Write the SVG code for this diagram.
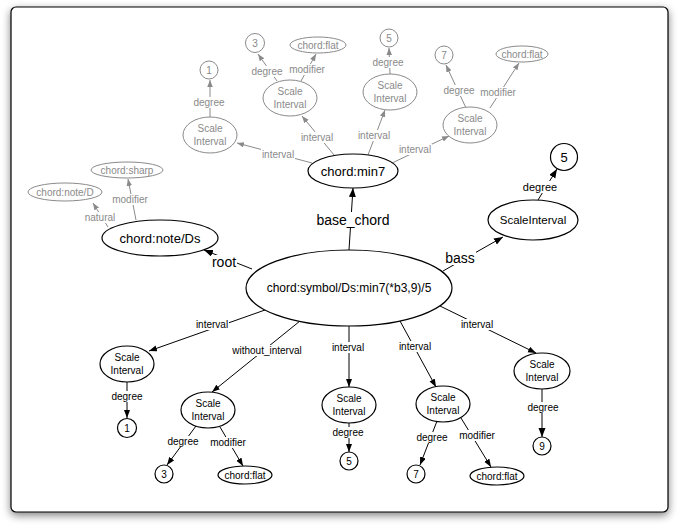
<svg xmlns="http://www.w3.org/2000/svg" width="680" height="527" viewBox="0 0 680 527">
<defs>
<filter id="sh" x="-10%" y="-10%" width="120%" height="120%">
<feGaussianBlur in="SourceAlpha" stdDeviation="4"/>
<feOffset dx="0" dy="3" result="b"/>
<feComponentTransfer><feFuncA type="linear" slope="0.5"/></feComponentTransfer>
<feMerge><feMergeNode/><feMergeNode in="SourceGraphic"/></feMerge>
</filter>
<marker id="ab" markerUnits="userSpaceOnUse" markerWidth="10" markerHeight="8" refX="9" refY="3.5" orient="auto"><path d="M0,0 L9,3.5 L0,7 z" fill="#000"/></marker>
<marker id="as" markerUnits="userSpaceOnUse" markerWidth="9" markerHeight="7" refX="8" refY="3" orient="auto"><path d="M0,0 L8,3 L0,6 z" fill="#000"/></marker>
<marker id="ag" markerUnits="userSpaceOnUse" markerWidth="9" markerHeight="7" refX="7" refY="2.75" orient="auto"><path d="M0,0 L7,2.75 L0,5.5 z" fill="#8a8a8a"/></marker>
</defs>
<style>
text{font-family:"Liberation Sans",Arial,sans-serif;text-anchor:middle}
.e{fill:#fff;stroke:#000;stroke-width:1.2}
.g{fill:#fff;stroke:#8a8a8a;stroke-width:1}
.tg{fill:#8a8a8a;font-size:10px}
.tb{fill:#000;font-size:10px}
.l{stroke:#000;stroke-width:1;fill:none}
.lg{stroke:#8a8a8a;stroke-width:1;fill:none}
.bg{fill:#fff}
</style>
<rect x="11" y="7" width="657" height="505" rx="5" fill="#fff" stroke="#000" stroke-width="1.2" filter="url(#sh)"/>

<g id="connectors">
<line class="l" x1="349" y1="250" x2="353" y2="188" marker-end="url(#ab)"/>
<line class="l" x1="252" y1="269" x2="204" y2="250" marker-end="url(#ab)"/>
<line class="l" x1="443" y1="271" x2="503" y2="237" marker-end="url(#ab)"/>
<line class="l" x1="538" y1="200" x2="557" y2="169" marker-end="url(#ab)"/>
<line class="l" x1="265" y1="310" x2="149" y2="351" marker-end="url(#as)"/>
<line class="l" x1="300" y1="321" x2="212" y2="392" marker-end="url(#as)"/>
<line class="l" x1="349" y1="326" x2="349" y2="387" marker-end="url(#as)"/>
<line class="l" x1="400" y1="321" x2="436" y2="387" marker-end="url(#as)"/>
<line class="l" x1="440" y1="306" x2="536" y2="353" marker-end="url(#as)"/>
<line class="l" x1="127" y1="382" x2="127" y2="418" marker-end="url(#as)"/>
<line class="l" x1="196" y1="426" x2="167" y2="465" marker-end="url(#as)"/>
<line class="l" x1="220" y1="427" x2="243" y2="466" marker-end="url(#as)"/>
<line class="l" x1="349" y1="423" x2="349" y2="452" marker-end="url(#as)"/>
<line class="l" x1="437" y1="421" x2="420" y2="465" marker-end="url(#as)"/>
<line class="l" x1="461" y1="418" x2="491" y2="467" marker-end="url(#as)"/>
<line class="l" x1="542" y1="389" x2="542" y2="437" marker-end="url(#ab)"/>
<line class="lg" x1="312" y1="163" x2="237" y2="143" marker-end="url(#ag)"/>
<line class="lg" x1="334" y1="155" x2="302" y2="116" marker-end="url(#ag)"/>
<line class="lg" x1="368" y1="155" x2="385" y2="110" marker-end="url(#ag)"/>
<line class="lg" x1="392" y1="163" x2="449" y2="136" marker-end="url(#ag)"/>
<line class="lg" x1="210" y1="117" x2="210" y2="80" marker-end="url(#ag)"/>
<line class="lg" x1="277" y1="81" x2="258" y2="54" marker-end="url(#ag)"/>
<line class="lg" x1="301" y1="81" x2="316" y2="54" marker-end="url(#ag)"/>
<line class="lg" x1="390" y1="74" x2="389" y2="48" marker-end="url(#ag)"/>
<line class="lg" x1="466" y1="108" x2="446" y2="65" marker-end="url(#ag)"/>
<line class="lg" x1="490" y1="108" x2="519" y2="63" marker-end="url(#ag)"/>
<line class="lg" x1="108" y1="227" x2="93" y2="203" marker-end="url(#ag)"/>
<line class="lg" x1="136" y1="220" x2="128" y2="179" marker-end="url(#ag)"/>

<rect class="bg" x="315" y="212" width="76" height="15"/>
<text x="353" y="225" font-size="14">base_chord</text>
<rect class="bg" x="211" y="255" width="26" height="14"/>
<text x="224" y="267" font-size="14">root</text>
<rect class="bg" x="444" y="251" width="32" height="14"/>
<text x="460" y="263" font-size="14">bass</text>
<rect class="bg" x="523" y="181" width="34" height="12"/>
<text x="540" y="191" font-size="11">degree</text>

<rect class="bg" x="195" y="319" width="34" height="11"/>
<text class="tb" x="212" y="328">interval</text>
<rect class="bg" x="231" y="345" width="72" height="11"/>
<text class="tb" x="267" y="354">without_interval</text>
<rect class="bg" x="331" y="342" width="34" height="11"/>
<text class="tb" x="348" y="351">interval</text>
<rect class="bg" x="398" y="341" width="34" height="11"/>
<text class="tb" x="415" y="350">interval</text>
<rect class="bg" x="460" y="319" width="34" height="11"/>
<text class="tb" x="477" y="328">interval</text>
<rect class="bg" x="111" y="391" width="33" height="11"/>
<text class="tb" x="127" y="400">degree</text>
<rect class="bg" x="167" y="436" width="33" height="11"/>
<text class="tb" x="183" y="445">degree</text>
<rect class="bg" x="209" y="437" width="38" height="11"/>
<text class="tb" x="228" y="446">modifier</text>
<rect class="bg" x="332" y="427" width="33" height="11"/>
<text class="tb" x="348" y="436">degree</text>
<rect class="bg" x="416" y="432" width="33" height="11"/>
<text class="tb" x="432" y="441">degree</text>
<rect class="bg" x="458" y="430" width="38" height="11"/>
<text class="tb" x="477" y="439">modifier</text>
<rect class="bg" x="526" y="402" width="33" height="11"/>
<text class="tb" x="543" y="411">degree</text>

<rect class="bg" x="261" y="149" width="34" height="11"/>
<text class="tg" x="278" y="158">interval</text>
<rect class="bg" x="300" y="132" width="34" height="11"/>
<text class="tg" x="317" y="141">interval</text>
<rect class="bg" x="357" y="130" width="34" height="11"/>
<text class="tg" x="374" y="139">interval</text>
<rect class="bg" x="398" y="144" width="34" height="11"/>
<text class="tg" x="415" y="153">interval</text>
<rect class="bg" x="193" y="97" width="33" height="11"/>
<text class="tg" x="209" y="106">degree</text>
<rect class="bg" x="251" y="66" width="33" height="11"/>
<text class="tg" x="267" y="75">degree</text>
<rect class="bg" x="288" y="64" width="38" height="11"/>
<text class="tg" x="307" y="73">modifier</text>
<rect class="bg" x="372" y="57" width="33" height="11"/>
<text class="tg" x="388" y="66">degree</text>
<rect class="bg" x="443" y="85" width="33" height="11"/>
<text class="tg" x="459" y="94">degree</text>
<rect class="bg" x="479" y="87" width="38" height="11"/>
<text class="tg" x="498" y="96">modifier</text>
<rect class="bg" x="84" y="212" width="33" height="11"/>
<text class="tg" x="100" y="221">natural</text>
<rect class="bg" x="111" y="194" width="38" height="11"/>
<text class="tg" x="130" y="203">modifier</text>
</g>

<g id="symbol"><ellipse class="e" cx="349" cy="288" rx="103" ry="38"/><text x="349" y="292" font-size="12">chord:symbol/Ds:min7(*b3,9)/5</text></g>
<g id="min7"><ellipse class="e" cx="353" cy="171" rx="45" ry="17"/><text x="353" y="176" font-size="13">chord:min7</text></g>
<g id="noteDs"><ellipse class="e" cx="160" cy="238" rx="58" ry="18"/><text x="160" y="243" font-size="13">chord:note/Ds</text></g>
<g id="bassSI"><ellipse class="e" cx="533" cy="220" rx="45" ry="20"/><text x="533" y="224" font-size="11.5">ScaleInterval</text></g>
<g id="bass5"><circle class="e" cx="564" cy="157" r="13.5"/><text x="564" y="162" font-size="13">5</text></g>

<g id="noteD"><ellipse class="g" cx="65" cy="192" rx="37" ry="9"/><text class="tg" x="65" y="196">chord:note/D</text></g>
<g id="sharp"><ellipse class="g" cx="127" cy="170" rx="36" ry="8"/><text class="tg" x="127" y="174">chord:sharp</text></g>

<g id="tSI1"><ellipse class="g" cx="210" cy="135" rx="27" ry="18"/><text class="tg" x="210" y="132">Scale</text><text class="tg" x="210" y="145">Interval</text></g>
<g id="t1"><circle class="g" cx="209" cy="70" r="9"/><text class="tg" x="209" y="74">1</text></g>
<g id="tSI2"><ellipse class="g" cx="290" cy="98" rx="27" ry="18"/><text class="tg" x="290" y="95">Scale</text><text class="tg" x="290" y="108">Interval</text></g>
<g id="t3"><circle class="g" cx="255" cy="43" r="9.5"/><text class="tg" x="255" y="47">3</text></g>
<g id="tflat1"><ellipse class="g" cx="318" cy="45" rx="28" ry="8"/><text class="tg" x="318" y="49">chord:flat</text></g>
<g id="tSI3"><ellipse class="g" cx="390" cy="92" rx="27" ry="18"/><text class="tg" x="390" y="89">Scale</text><text class="tg" x="390" y="102">Interval</text></g>
<g id="t5"><circle class="g" cx="389" cy="38" r="9"/><text class="tg" x="389" y="42">5</text></g>
<g id="tSI4"><ellipse class="g" cx="470" cy="125" rx="27" ry="18"/><text class="tg" x="470" y="122">Scale</text><text class="tg" x="470" y="135">Interval</text></g>
<g id="t7"><circle class="g" cx="444" cy="55" r="9"/><text class="tg" x="444" y="59">7</text></g>
<g id="tflat2"><ellipse class="g" cx="522" cy="54" rx="26" ry="8"/><text class="tg" x="522" y="58">chord:flat</text></g>

<g id="bSI1"><ellipse class="e" cx="127" cy="364" rx="27" ry="18"/><text class="tb" x="127" y="361">Scale</text><text class="tb" x="127" y="374">Interval</text></g>
<g id="b1"><circle class="e" cx="127" cy="428" r="9.5"/><text class="tb" x="127" y="432">1</text></g>
<g id="bSI2"><ellipse class="e" cx="208" cy="410" rx="27" ry="18"/><text class="tb" x="208" y="407">Scale</text><text class="tb" x="208" y="420">Interval</text></g>
<g id="b3"><circle class="e" cx="164" cy="474" r="9"/><text class="tb" x="164" y="478">3</text></g>
<g id="bflat1"><ellipse class="e" cx="245" cy="475" rx="27" ry="9"/><text class="tb" x="245" y="479">chord:flat</text></g>
<g id="bSI3"><ellipse class="e" cx="349" cy="405" rx="27" ry="18"/><text class="tb" x="349" y="402">Scale</text><text class="tb" x="349" y="415">Interval</text></g>
<g id="b5"><circle class="e" cx="349" cy="461" r="9"/><text class="tb" x="349" y="465">5</text></g>
<g id="bSI4"><ellipse class="e" cx="443" cy="404" rx="27" ry="18"/><text class="tb" x="443" y="401">Scale</text><text class="tb" x="443" y="414">Interval</text></g>
<g id="b7"><circle class="e" cx="416" cy="474" r="9"/><text class="tb" x="416" y="478">7</text></g>
<g id="bflat2"><ellipse class="e" cx="497" cy="476" rx="27" ry="9"/><text class="tb" x="497" y="480">chord:flat</text></g>
<g id="bSI5"><ellipse class="e" cx="542" cy="371" rx="28" ry="18"/><text class="tb" x="542" y="368">Scale</text><text class="tb" x="542" y="381">Interval</text></g>
<g id="b9"><circle class="e" cx="542" cy="446" r="9"/><text class="tb" x="542" y="450">9</text></g>
</svg>
